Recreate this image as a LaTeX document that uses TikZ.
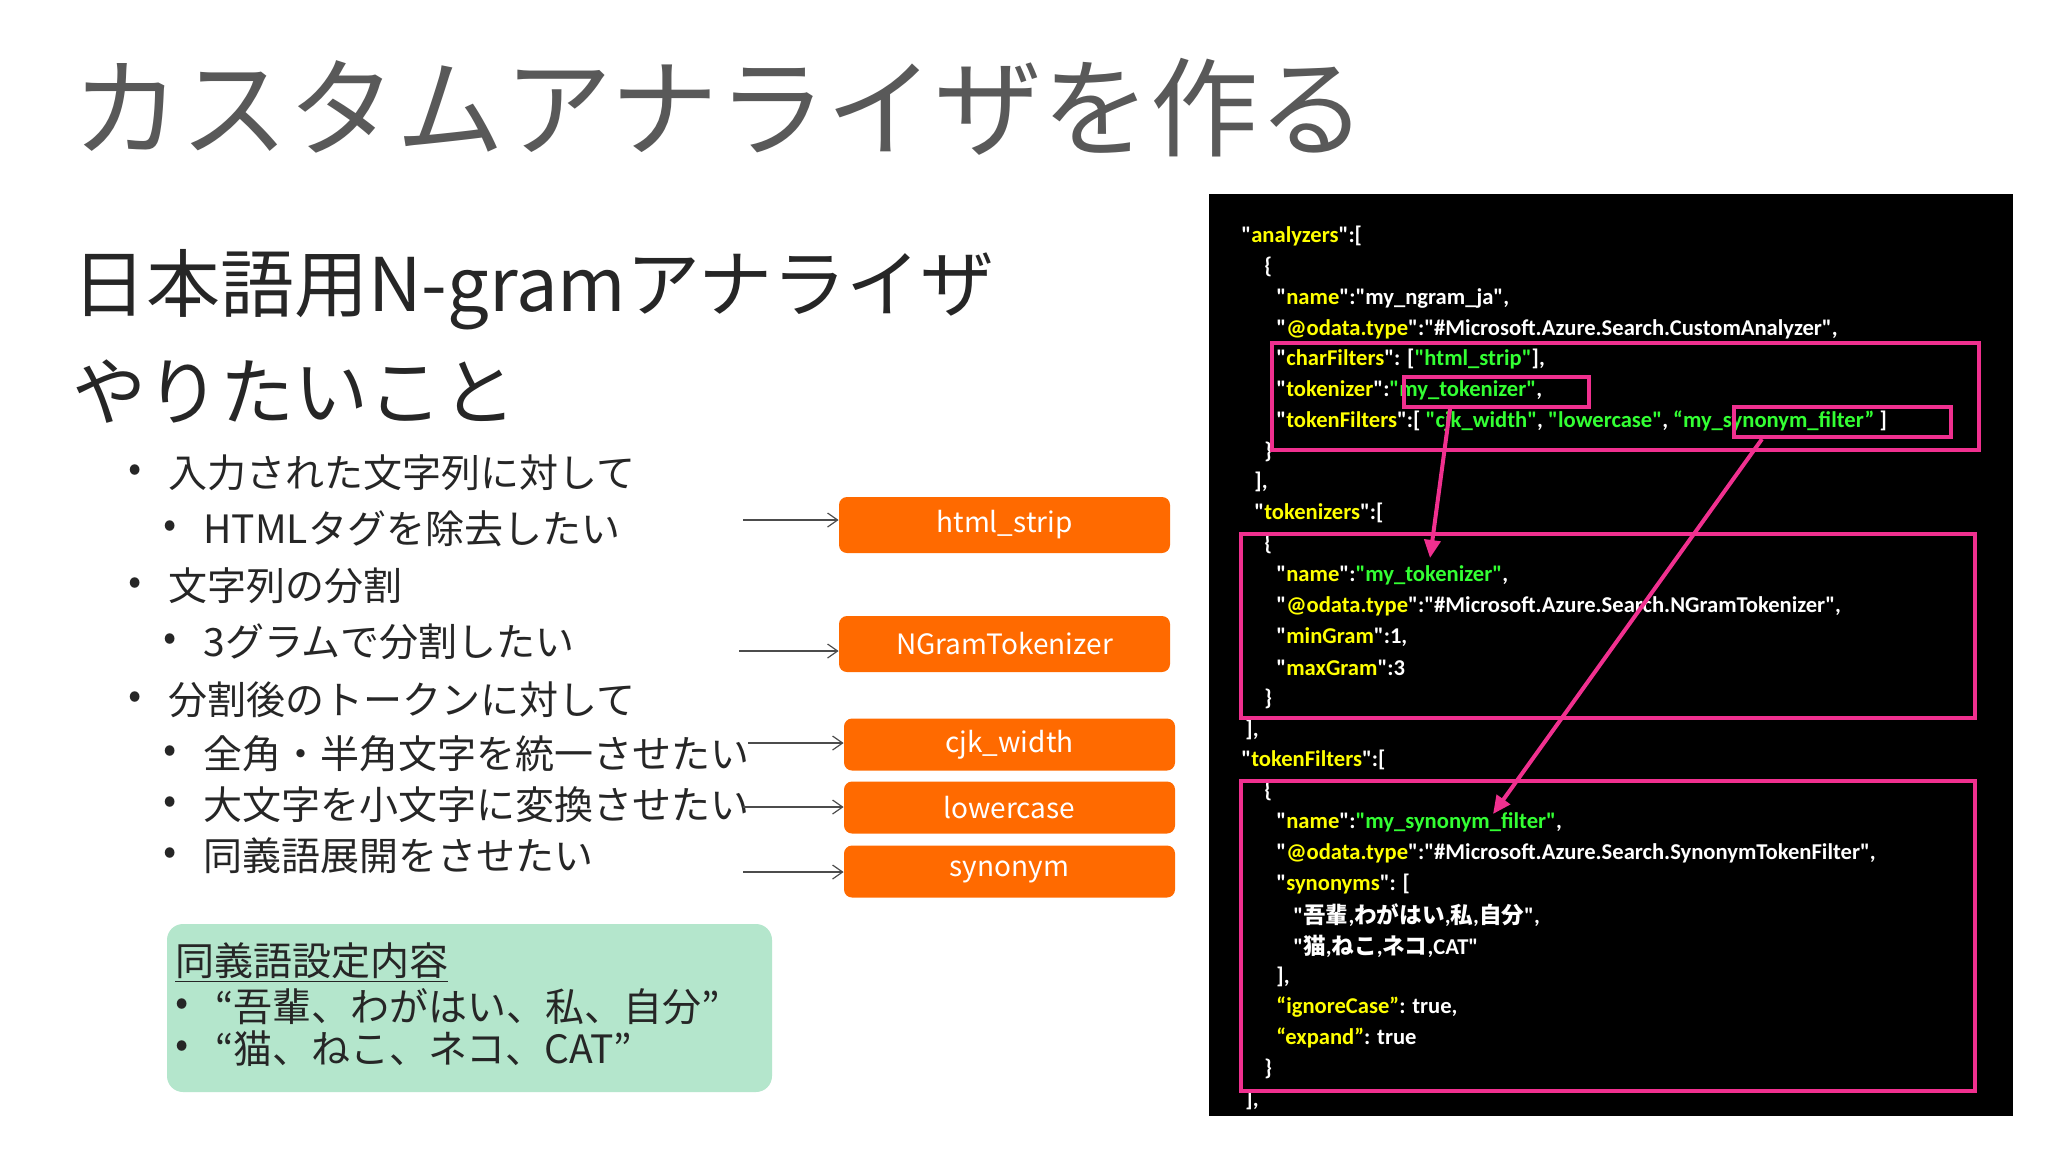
\documentclass[tikz,border=0pt]{standalone}
\usepackage{fontspec}
\setmainfont{Noto Sans CJK JP}
\newfontfamily\cjk{Noto Sans CJK JP}
\newfontfamily\codefont{Carlito}[BoldFont=Carlito Bold]
\usetikzlibrary{arrows.meta}
\definecolor{ttl}{HTML}{595959}
\definecolor{orng}{HTML}{FF6A00}
\definecolor{mint}{HTML}{B4E6CC}
\definecolor{pnk}{HTML}{F0308F}
\definecolor{ky}{HTML}{FFFF00}
\definecolor{gv}{HTML}{33FF33}
\newcommand{\kq}[1]{"\textcolor{ky}{#1}"}
\newcommand{\gq}[1]{\textcolor{gv}{"#1"}}
\tikzset{
  txt/.style={anchor=west,inner sep=0pt,font=\fontsize{19.5pt}{22pt}\selectfont,text=black!85},
  obox/.style={fill=orng,rounded corners=4pt,text=white,font=\fontsize{14pt}{16pt}\selectfont,minimum width=165.5pt,minimum height=28pt,inner sep=0pt},
  code/.style={anchor=west,inner sep=0pt,text=white,font=\codefont\bfseries\fontsize{11.3pt}{13pt}\selectfont},
  pbox/.style={draw=pnk,line width=2pt},
  parr/.style={pnk,line width=2pt,-{Triangle[length=9pt,width=8pt]}},
  garr/.style={black!70,line width=0.6pt,-{Straight Barb[length=5pt,width=7pt]}}
}
\begin{document}
\begin{tikzpicture}[x=0.5pt,y=-0.5pt]
\useasboundingbox (0,0) rectangle (2048,1152);
\fill[white] (0,0) rectangle (2048,1152);
% title
\node[anchor=west,inner sep=0pt,text=ttl,font=\fontsize{54pt}{60pt}\selectfont] (title) at (72,108) {カスタムアナライザを作る};
\node[anchor=west,inner sep=0pt,text=black!85,font=\fontsize{37pt}{42pt}\selectfont] (sub1) at (72,290) {日本語用N-gramアナライザ};
\node[anchor=west,inner sep=0pt,text=black!85,font=\fontsize{37pt}{42pt}\selectfont] (sub2) at (72,392) {やりたいこと};
% bullets
\foreach \y/\t/\lv [count=\i] in {473/入力された文字列に対して/0, 529/HTMLタグを除去したい/1, 586/文字列の分割/0, 642/3グラムで分割したい/1, 700/分割後のトークンに対して/0, 754/全角・半角文字を統一させたい/1, 805/大文字を小文字に変換させたい/1, 856/同義語展開をさせたい/1}{
  \ifnum\lv=0
    \node[txt] (b\i) at (128,\y) {•};
    \node[txt] (t\i) at (168,\y) {\t};
  \else
    \node[txt] (b\i) at (163,\y) {•};
    \node[txt] (t\i) at (203,\y) {\t};
  \fi
}
% orange boxes
\node[obox] (o1) at (1004.5,525) {html\_strip};
\node[obox] (o2) at (1004.5,644) {NGramTokenizer};
\node[obox,minimum height=26pt] (o3) at (1009.5,744.5) {cjk\_width};
\node[obox,minimum height=26pt] (o4) at (1009.5,807.5) {lowercase};
\node[obox,minimum height=26pt] (o5) at (1009.5,871.5) {synonym};
\coordinate (s1) at (743,520);
\coordinate (s2) at (739,651);
\coordinate (s3) at (748,743);
\coordinate (s4) at (743,807);
\coordinate (s5) at (743,872);
\draw[garr] (s1) -- (s1 -| o1.west);
\draw[garr] (s2) -- (s2 -| o2.west);
\draw[garr] (s3) -- (s3 -| o3.west);
\draw[garr] (s4) -- (s4 -| o4.west);
\draw[garr] (s5) -- (s5 -| o5.west);
% green box
\fill[mint,rounded corners=8pt] (167,924) rectangle (772,1092);
\node[txt] (gh) at (175,963) {\underline{同義語設定内容}};
\node[txt] (gb1) at (175,1007) {•};
\node[txt] (gt1) at (215,1007) {“吾輩、わがはい、私、自分”};
\node[txt] (gb2) at (175,1049) {•};
\node[txt] (gt2) at (215,1049) {“猫、ねこ、ネコ、CAT”};
% code panel
\fill[black] (1209,194) rectangle (2013,1116);
\node[code] (c1) at (1241,236) {\kq{analyzers}:[};
\node[code] (c2) at (1264,267) {\{};
\node[code] (c3) at (1276,298) {\kq{name}:"my\_ngram\_ja",};
\node[code] (c4) at (1276,329) {\kq{@odata.type}:"\#Microsoft.Azure.Search.CustomAnalyzer",};
\node[code] (c5) at (1276,359) {\kq{charFilters}: [\gq{html\_strip}],};
\node[code] (c6) at (1276,390) {\kq{tokenizer}:\gq{my\_tokenizer},};
\node[code] (c7) at (1276,421) {\kq{tokenFilters}:[ \gq{cjk\_width}, \gq{lowercase}, \textcolor{gv}{“my\_synonym\_filter”} ]};
\node[code] (c8) at (1264,452) {\}};
\node[code] (c9) at (1254,482) {],};
\node[code] (c10) at (1254,513) {\kq{tokenizers}:[};
\node[code] (c11) at (1264,544) {\{};
\node[code] (c12) at (1276,575) {\kq{name}:\gq{my\_tokenizer},};
\node[code] (c13) at (1276,606) {\kq{@odata.type}:"\#Microsoft.Azure.Search.NGramTokenizer",};
\node[code] (c14) at (1276,637) {\kq{minGram}:1,};
\node[code] (c15) at (1276,668) {\kq{maxGram}:3};
\node[code] (c16) at (1264,699) {\}};
\node[code] (c17) at (1245,730) {],};
\node[code] (c18) at (1241,760) {\kq{tokenFilters}:[};
\node[code] (c19) at (1264,791) {\{};
\node[code] (c20) at (1276,822) {\kq{name}:\gq{my\_synonym\_filter},};
\node[code] (c21) at (1276,853) {\kq{@odata.type}:"\#Microsoft.Azure.Search.SynonymTokenFilter",};
\node[code] (c22) at (1276,884) {\kq{synonyms}: [};
\node[code] (c23) at (1293,915) {"{\cjk\bfseries 吾輩},{\cjk わがはい},{\cjk 私},{\cjk 自分}",};
\node[code] (c24) at (1293,946) {"{\cjk 猫},{\cjk ねこ},{\cjk ネコ},CAT"};
\node[code] (c25) at (1276,977) {],};
\node[code] (c26) at (1276,1007) {\textcolor{ky}{“ignoreCase”}: true,};
\node[code] (c27) at (1276,1038) {\textcolor{ky}{“expand”}: true};
\node[code] (c28) at (1264,1069) {\}};
\node[code] (c29) at (1245,1100) {],};
% pink boxes
\draw[pbox] (1272,343) rectangle (1979,450);
\node[pbox,minimum width=92.5pt,minimum height=15pt,inner sep=0pt] (pt) at (1496.5,392) {};
\node[pbox,minimum width=108.5pt,minimum height=15pt,inner sep=0pt] (ps) at (1842.5,422) {};
\draw[pbox] (1241,534) rectangle (1975,718);
\draw[pbox] (1241,781) rectangle (1975,1091);
\coordinate (tt) at (1430,558);
\coordinate (st) at (1493,814);
\draw[parr] (pt.south -| 1450,0) -- (tt);
\draw[parr] (ps.south -| 1762,0) -- (st);
\end{tikzpicture}
\end{document}
